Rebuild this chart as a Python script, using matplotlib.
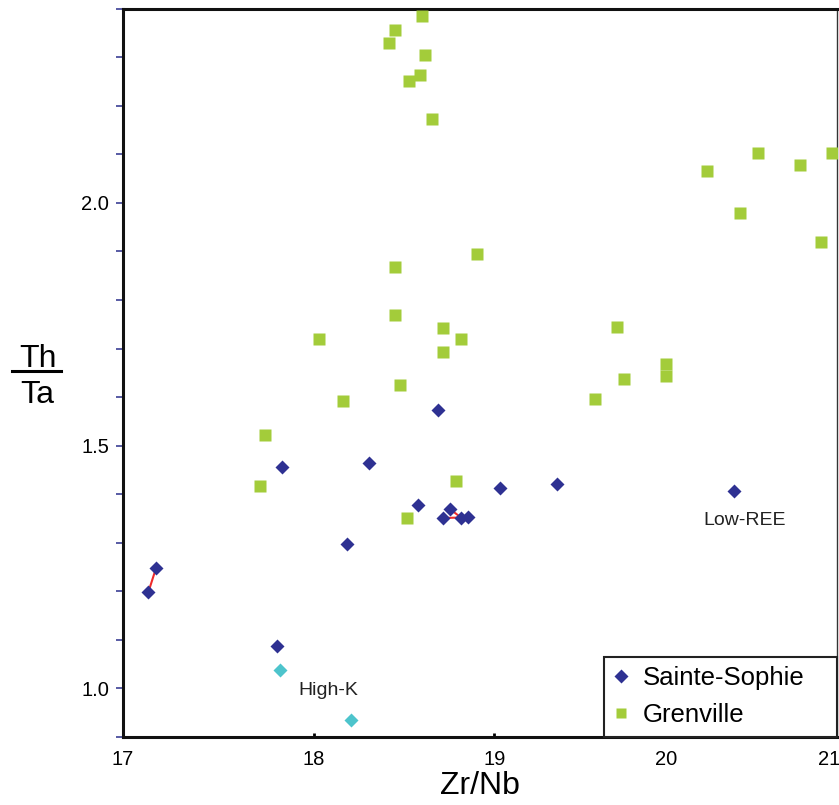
import numpy as np
import matplotlib.pyplot as plt
from matplotlib.lines import Line2D
from matplotlib.patches import Rectangle
from matplotlib.ticker import FixedLocator, FuncFormatter, NullLocator

plt.rcParams['font.family'] = ['Liberation Sans', 'DejaVu Sans']

# Sainte-Sophie samples
sophie_zrnb = [17.13, 17.17, 17.80, 17.83, 18.18, 18.30, 18.57, 18.68,
               18.71, 18.75, 18.81, 18.85, 19.03, 19.36, 20.41]
sophie_thta = [1.199, 1.249, 1.088, 1.455, 1.297, 1.465, 1.377, 1.574,
               1.351, 1.369, 1.352, 1.354, 1.413, 1.420, 1.407]
# high-K Sainte-Sophie samples
highk_zrnb = [17.82, 18.20]
highk_thta = [1.039, 0.934]
# pairs of Sainte-Sophie samples joined by tie lines
tie_pairs = [(0, 1), (9, 10), (8, 10)]

# Grenville samples
grenville_zrnb = [18.59, 18.44, 18.41, 18.61, 18.58, 18.52, 18.65, 20.56,
                  21.02, 20.82, 20.25, 20.45, 20.95, 19.71, 20.00, 20.00,
                  19.75, 19.58, 18.90, 18.44, 18.44, 18.71, 18.03, 18.81,
                  18.71, 18.47, 18.16, 17.74, 17.71, 18.78, 18.51]
grenville_thta = [2.384, 2.355, 2.330, 2.305, 2.263, 2.251, 2.173, 2.103,
                  2.103, 2.078, 2.065, 1.980, 1.919, 1.744, 1.668, 1.643,
                  1.637, 1.596, 1.894, 1.868, 1.770, 1.743, 1.719, 1.719,
                  1.693, 1.624, 1.591, 1.521, 1.416, 1.428, 1.351]

x_ticks = [17, 18, 19, 20, 21]
y_ticks = np.round(np.arange(0.9, 2.41, 0.1), 1)
y_labelled = [1.0, 1.5, 2.0]

navy = '#2E3192'
green = '#A3CC3A'
cyan = '#4DC4CC'
red = '#EE2B2B'

fig = plt.figure(figsize=(8.39, 8.05), dpi=100)
ax = fig.add_axes([123 / 839, 68 / 805, 714 / 839, 728.4 / 805])

for i, j in tie_pairs:
    ax.plot([sophie_zrnb[i], sophie_zrnb[j]], [sophie_thta[i], sophie_thta[j]],
            color=red, lw=1.5, zorder=2)
ax.plot(grenville_zrnb, grenville_thta, 's', ms=8, color=green, mec='none', zorder=3)
ax.plot(sophie_zrnb, sophie_thta, 'D', ms=7, color=navy, mec='none', zorder=4)
ax.plot(highk_zrnb, highk_thta, 'D', ms=7, color=cyan, mec='none', zorder=4)

ax.text(18.08, 0.986, 'High-K', ha='center', va='baseline', fontsize=14, color='#222222')
ax.text(20.48, 1.337, 'Low-REE', ha='center', va='baseline', fontsize=14, color='#222222')

# axes
ax.set_xscale('log')
ax.set_xlim(17, 21.052)
ax.set_ylim(0.9, 2.4)
ax.xaxis.set_major_locator(FixedLocator(x_ticks))
ax.xaxis.set_major_formatter(FuncFormatter(lambda v, p: f'{v:.0f}'))
ax.xaxis.set_minor_locator(NullLocator())
ax.yaxis.set_major_locator(FixedLocator(y_ticks))
ax.yaxis.set_major_formatter(FuncFormatter(
    lambda v, p: f'{v:.1f}' if any(abs(v - t) < 1e-6 for t in y_labelled) else ''))
ax.yaxis.set_minor_locator(NullLocator())

ax.tick_params(axis='x', direction='in', length=3, width=2, color='black',
               labelsize=14.5, pad=9)
ax.tick_params(axis='y', direction='out', length=5, width=1.2, color='#3b4095',
               labelsize=14.5, pad=5)

for side in ['left', 'bottom', 'top']:
    ax.spines[side].set_linewidth(2.2)
    ax.spines[side].set_color('#111111')
ax.spines['right'].set_linewidth(1.0)
ax.spines['right'].set_color('#333333')

ax.set_xlabel('Zr/Nb', fontsize=23, labelpad=2)

# stacked y label Th / Ta
fig.text(38 / 839, 1 - 367 / 805, 'Th', ha='center', va='baseline', fontsize=23)
fig.add_artist(Line2D([12 / 839, 61 / 839], [1 - 371 / 805] * 2, color='black', lw=2.2))
fig.text(37 / 839, 1 - 403 / 805, 'Ta', ha='center', va='baseline', fontsize=23)

# legend
handles = [Line2D([], [], marker='D', ls='none', color=navy, mec='none', ms=7.5),
           Line2D([], [], marker='s', ls='none', color=green, mec='none', ms=7.5)]
box_x = (604 - 123) / 714
box_h = (737 - 657) / 728.4
ax.add_patch(Rectangle((box_x, 0), 1 - box_x, box_h, transform=ax.transAxes,
                       facecolor='white', edgecolor='#222222', lw=1.5,
                       clip_on=False, zorder=5))
leg = ax.legend(handles, ['Sainte-Sophie', 'Grenville'], loc='upper left',
                bbox_to_anchor=(box_x, box_h), frameon=False, fontsize=18.5,
                handlelength=0.6, handletextpad=0.55, borderpad=0.35,
                labelspacing=0.5, borderaxespad=0)
leg.set_zorder(6)

fig.savefig('out.png', dpi=100)
